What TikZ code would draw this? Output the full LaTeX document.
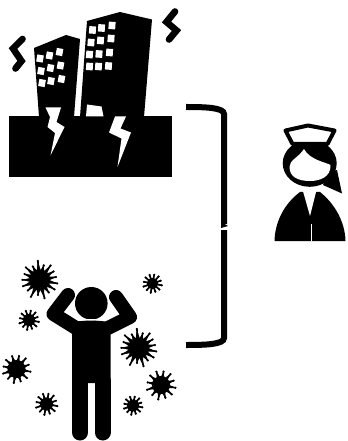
\documentclass[tikz,border=0pt]{standalone}
\usepackage{xcolor}
\usetikzlibrary{calc}
\tikzset{
  zigzag/.style={line width=5pt, line join=miter, line cap=round},
  bracket/.style={line width=4.5pt, line cap=butt},
  spike/.style={line width=1.2pt, line cap=round},
  armleg/.style={line width=10.5pt, line cap=round, line join=round},
  capline/.style={line width=3pt, line join=round, fill=white}
}
% x, y, core radius, spike length, wobble, number of spikes
\newcommand{\virus}[6]{
  \begin{scope}[shift={(#1,#2)}]
    \fill[black] (0,0) circle (#3);
    \pgfmathsetmacro{\stepang}{360/#6}
    \foreach \k in {1,...,#6} {
      \pgfmathsetmacro{\ang}{\k*\stepang+11}
      \pgfmathsetmacro{\len}{#4*(1+#5*sin(157*\k))}
      \fill[black] (\ang-11:#3-0.5) -- (\ang:\len) -- (\ang+11:#3-0.5) -- cycle;
      \draw[spike] (\ang:#3-1) -- (\ang:\len);
      \fill[black] (\ang:\len) circle (1.2);
    }
  \end{scope}
}
\begin{document}
\begin{tikzpicture}[x=0.75pt, y=-0.75pt]
  \useasboundingbox (0,0) rectangle (347,441);

  % Ground and the two buildings
  \fill[black] (9,116.5) rectangle (171.5,177);
  \fill[black] (34,48) -- (66,35) -- (80,39) -- (74,117) -- (39,117) -- cycle;
  \fill[black] (87,21) -- (120,12) -- (152,19.5) -- (144,117) -- (80,117) -- cycle;

  % Windows, left building
  \foreach \xpos/\ypos in {40/58.5, 49.5/55.5, 59.5/52,
                           41/71, 50.5/68, 60.5/65.5,
                           42/83, 51/81, 61.5/79} {
    \fill[white, rotate around={-10:(\xpos,\ypos)}] (\xpos-3.3,\ypos-3.6) rectangle (\xpos+3.3,\ypos+3.6);
  }
  % Windows, right building
  \foreach \xpos/\ypos in {92.5/30, 101.5/28, 112/25.5,
                           91/42.5, 100.5/40.5, 111/38.5,
                           89.5/54.5, 99/54, 109.5/52.5,
                           89.5/66.5, 98.5/66.5, 108.5/66} {
    \fill[white, rotate around={-4:(\xpos,\ypos)}] (\xpos-3.4,\ypos-3.7) rectangle (\xpos+3.4,\ypos+3.7);
  }

  % Door and cracks
  \fill[white] (87,104.5) -- (101.5,106.5) -- (103.5,116.5) -- (86,116.5) -- cycle;
  \fill[white] (45.5,107.5) -- (61,107.5) -- (56.5,122) -- (64.5,127) -- (50.5,155.5) -- (55,133) -- (47.5,127) -- (50,117) -- cycle;
  \fill[white] (115,116.5) -- (126,116.5) -- (120.5,128.5) -- (131,132.5) -- (117.5,167) -- (121.5,138.5) -- (109,132.5) -- cycle;

  % Shaking marks
  \draw[zigzag] (22.5,39) -- (13,48.5) -- (21.5,61) -- (15.5,68.5);
  \draw[zigzag] (175,11.5) -- (166.5,22) -- (176.5,30.5) -- (169,39.5);

  % Bracket
  \draw[bracket] (186,107) .. controls (205,107) and (224,107.5) .. (224,114) -- (224,224);
  \draw[bracket] (224,230) -- (224,338) .. controls (224,344.5) and (205,345) .. (186,345);
  \fill[black] (221,222) -- (228,226) -- (221,228) -- cycle;

  % Nurse
  \fill[black] (274.5,241) .. controls (275,222) and (284,204) .. (300,192) -- (320,192) .. controls (335,204) and (345,222) .. (345.5,241) -- cycle;
  \fill[white] (301.5,186) -- (310,216) -- (317.5,186) -- cycle;
  \draw[white, line width=0.6pt] (311,224) -- (311,241);
  \fill[black] (328,172) -- (337,170) -- (342,193.5) -- (323,185) -- cycle;
  \fill[black] (309.7,163.3) ellipse (27 and 23.5);
  \fill[white] (289.5,167) .. controls (289.5,160) and (298,158) .. (304,149)
    .. controls (310,160) and (325,162) .. (330.5,165)
    .. controls (331,177) and (320,181) .. (310,181)
    .. controls (298,181) and (289.5,177) .. (289.5,167) -- cycle;
  \draw[capline] (285.5,130.5) -- (308,125.5) -- (334.5,130.5) -- (327.5,144) -- (292.5,144) -- cycle;

  % Person
  \fill[black] (72,322) -- (91,320) -- (110.5,322) -- (110.5,383) -- (72,383) -- cycle;
  \draw[armleg] (68,295) -- (53.5,314) -- (76,328);
  \draw[armleg] (116,297) -- (130,317) -- (108,328);
  \fill[black] (91.3,303.3) circle (16.3);
  \draw[white, line width=1pt] (80,319.5) .. controls (87,320) and (95,320) .. (102,319.5);
  \draw[armleg, line width=12pt] (80,381) -- (80,432.5);
  \draw[armleg, line width=12pt] (102.5,381) -- (102.5,432.5);

  % Germs
  \virus{39.5}{280}{10.5}{17}{0.12}{17}
  \virus{152.5}{283.5}{5.5}{9}{0.05}{12}
  \virus{29}{320}{6}{9.5}{0.05}{12}
  \virus{16.5}{369}{9}{13.5}{0.05}{12}
  \virus{46.5}{404}{6.5}{10.5}{0.05}{12}
  \virus{138.5}{348}{10.5}{17}{0.12}{17}
  \virus{161}{385}{9}{14}{0.05}{12}
  \virus{133}{405.5}{6}{9}{0.05}{12}
\end{tikzpicture}
\end{document}
